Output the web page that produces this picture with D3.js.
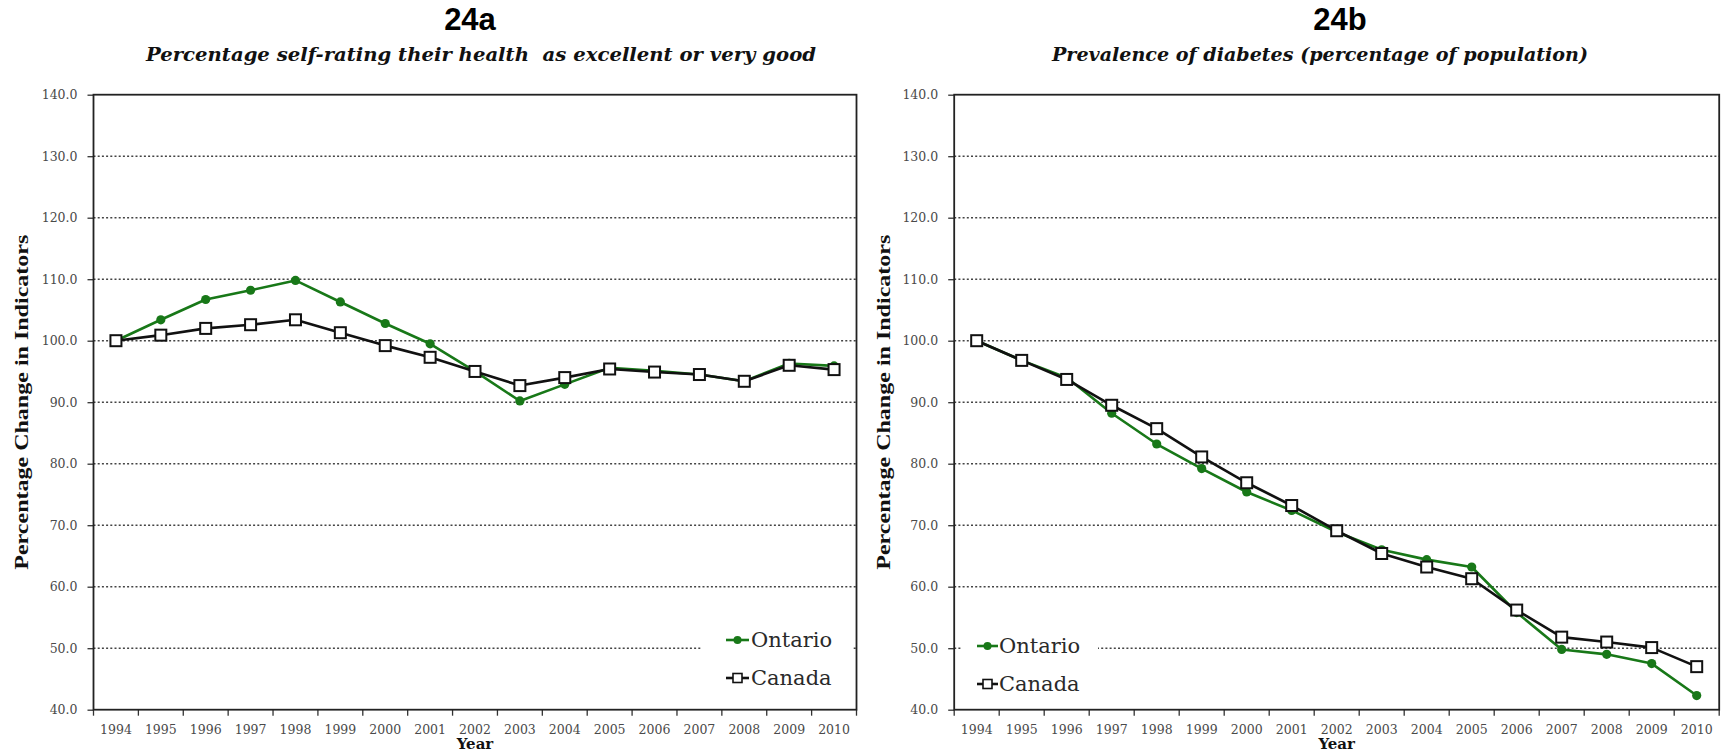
<!DOCTYPE html>
<html>
<head>
<meta charset="utf-8">
<script src="https://cdn.jsdelivr.net/npm/d3@7"></script>
<style>
  body { margin: 0; background: #fff; }
  svg { display: block; }
</style>
</head>
<body>
<svg id="chart" width="1726" height="755"></svg>
<script>
// ---- data ----
const years = ["1994","1995","1996","1997","1998","1999","2000","2001","2002",
               "2003","2004","2005","2006","2007","2008","2009","2010"];
const yTickValues = [40, 50, 60, 70, 80, 90, 100, 110, 120, 130, 140];
const gridValues = [50, 60, 70, 80, 90, 100, 110, 120, 130];
const seriesNames = ["Ontario", "Canada"];
const panelTitles = ["24a", "24b"];
const panelSubtitles = [
  "Percentage self-rating their health  as excellent or very good",
  "Prevalence of diabetes (percentage of population)"
];
const yAxisTitle = "Percentage Change in Indicators";
const xAxisTitle = "Year";

// 24a: self-rated health, indexed to 1994 = 100
const healthOntario = [100, 103.4, 106.7, 108.2, 109.8, 106.3, 102.8, 99.5, 95.0,
                       90.2, 92.9, 95.6, 95.1, 94.5, 93.4, 96.3, 95.9];
const healthCanada  = [100, 100.9, 102.0, 102.6, 103.4, 101.3, 99.2, 97.3, 95.0,
                       92.7, 94.0, 95.4, 94.9, 94.5, 93.4, 96.0, 95.3];
// 24b: diabetes prevalence, indexed to 1994 = 100
const diabetesOntario = [100, 96.8, 94.0, 88.2, 83.2, 79.2, 75.4, 72.4, 68.9,
                         66.0, 64.4, 63.2, 55.8, 49.8, 49.0, 47.5, 42.3];
const diabetesCanada  = [100, 96.8, 93.7, 89.5, 85.7, 81.1, 76.9, 73.2, 69.1,
                         65.4, 63.2, 61.3, 56.2, 51.8, 51.0, 50.1, 47.0];

// ---- styling ----
const GREEN = "#187818";
const BLACK = "#111";
const TICK_GRAY = "#4a4a4a";

const svg = d3.select("#chart");

const panels = [
  {
    title: panelTitles[0], subtitle: panelSubtitles[0],
    ontario: healthOntario, canada: healthCanada,
    left: 93.5, right: 856.5, top: 94.7, bottom: 709.7,
    titleX: 470, subtitleX: 481, subtitleW: 670, yTitleX: 22,
    legend: { x: 702, y: 620, w: 150, h: 80, lineX0: 726, lineX1: 749, textX: 751, rowY: [640, 678] }
  },
  {
    title: panelTitles[1], subtitle: panelSubtitles[1],
    ontario: diabetesOntario, canada: diabetesCanada,
    left: 954.2, right: 1719.2, top: 94.7, bottom: 709.7,
    titleX: 1340, subtitleX: 1320, subtitleW: 536, yTitleX: 884,
    legend: { x: 962, y: 626, w: 136, h: 78, lineX0: 977, lineX1: 998, textX: 999, rowY: [646, 684] }
  }
];

function drawPanel(p) {
  const g = svg.append("g");
  const x = d3.scaleBand().domain(years).range([p.left, p.right]).padding(0);
  const y = d3.scaleLinear().domain([40, 140]).range([p.bottom, p.top]);
  const cx = d => x(d) + x.bandwidth() / 2;

  // headings
  g.append("text")
    .attr("x", p.titleX).attr("y", 30)
    .attr("text-anchor", "middle")
    .style("font-family", "'Liberation Sans Narrow', 'Liberation Sans', Arial, sans-serif")
    .style("font-weight", "bold").style("font-size", "31px")
    .attr("fill", "#000")
    .text(p.title);

  g.append("text")
    .attr("x", p.subtitleX).attr("y", 61)
    .attr("text-anchor", "middle")
    .attr("textLength", p.subtitleW).attr("lengthAdjust", "spacingAndGlyphs")
    .style("white-space", "pre")
    .style("font-family", "'DejaVu Serif', serif")
    .style("font-weight", "bold").style("font-style", "italic").style("font-size", "18.5px")
    .attr("fill", "#111")
    .text(p.subtitle);

  // dotted gridlines
  g.append("g").selectAll("line").data(gridValues).join("line")
    .attr("x1", p.left).attr("x2", p.right)
    .attr("y1", d => y(d)).attr("y2", d => y(d))
    .attr("stroke", "#444").attr("stroke-width", 1.4)
    .attr("stroke-dasharray", "2,2.2");

  // y axis
  const yAxis = d3.axisLeft(y).tickValues(yTickValues)
    .tickFormat(d3.format(".1f")).tickSize(6).tickPadding(10);
  const ya = g.append("g").attr("transform", `translate(${p.left},0)`).call(yAxis);
  ya.select(".domain").remove();
  ya.selectAll(".tick line").attr("stroke", "#333").attr("stroke-width", 1.3);
  ya.selectAll(".tick text")
    .style("font-family", "'DejaVu Serif', serif").style("font-size", "12.5px")
    .attr("fill", TICK_GRAY);

  // x axis: labels centred on categories, tick marks between categories
  const xAxis = d3.axisBottom(x).tickSize(0).tickPadding(15);
  const xa = g.append("g").attr("transform", `translate(0,${p.bottom})`).call(xAxis);
  xa.select(".domain").remove();
  xa.selectAll(".tick text")
    .style("font-family", "'DejaVu Serif', serif").style("font-size", "12.5px")
    .attr("fill", TICK_GRAY);
  const edges = years.map(d => x(d)).concat([x.range()[1]]);
  g.append("g").selectAll("line").data(edges).join("line")
    .attr("x1", d => d).attr("x2", d => d)
    .attr("y1", p.bottom).attr("y2", p.bottom + 6)
    .attr("stroke", "#333").attr("stroke-width", 1.3);

  // plot frame
  g.append("rect")
    .attr("x", p.left).attr("y", p.top)
    .attr("width", p.right - p.left).attr("height", p.bottom - p.top)
    .attr("fill", "none").attr("stroke", "#222").attr("stroke-width", 1.8);

  // axis titles
  g.append("text")
    .attr("transform", `translate(${p.yTitleX},${(p.top + p.bottom) / 2}) rotate(-90)`)
    .attr("text-anchor", "middle").attr("dy", "0.35em")
    .attr("textLength", 335).attr("lengthAdjust", "spacingAndGlyphs")
    .style("font-family", "'Liberation Serif', 'Times New Roman', serif")
    .style("font-weight", "bold").style("font-size", "18px")
    .attr("fill", "#111")
    .text(yAxisTitle);

  g.append("text")
    .attr("x", (p.left + p.right) / 2).attr("y", 749)
    .attr("text-anchor", "middle")
    .style("font-family", "'DejaVu Serif', serif")
    .style("font-weight", "bold").style("font-size", "15px")
    .attr("fill", "#111")
    .text(xAxisTitle);

  // series lines
  const line = d3.line().x((d, i) => cx(years[i])).y(d => y(d));
  g.append("path").datum(p.ontario)
    .attr("d", line).attr("fill", "none")
    .attr("stroke", GREEN).attr("stroke-width", 2.6).attr("stroke-linejoin", "round");
  g.append("path").datum(p.canada)
    .attr("d", line).attr("fill", "none")
    .attr("stroke", BLACK).attr("stroke-width", 2.6).attr("stroke-linejoin", "round");

  // markers
  g.append("g").selectAll("circle").data(p.ontario).join("circle")
    .attr("cx", (d, i) => cx(years[i])).attr("cy", d => y(d))
    .attr("r", 4.6).attr("fill", GREEN);
  const s = 11;
  g.append("g").selectAll("rect").data(p.canada).join("rect")
    .attr("x", (d, i) => cx(years[i]) - s / 2).attr("y", d => y(d) - s / 2)
    .attr("width", s).attr("height", s)
    .attr("fill", "#fff").attr("stroke", BLACK).attr("stroke-width", 2);

  // legend
  const L = p.legend;
  const lg = g.append("g");
  lg.append("rect").attr("x", L.x).attr("y", L.y).attr("width", L.w).attr("height", L.h)
    .attr("fill", "#fff");
  const rows = lg.selectAll("g").data(seriesNames).join("g")
    .attr("transform", (d, i) => `translate(0,${L.rowY[i]})`);
  rows.append("line")
    .attr("x1", L.lineX0).attr("x2", L.lineX1).attr("y1", 0).attr("y2", 0)
    .attr("stroke", (d, i) => i === 0 ? GREEN : BLACK).attr("stroke-width", 2.6);
  const mid = (L.lineX0 + L.lineX1) / 2;
  rows.filter((d, i) => i === 0).append("circle")
    .attr("cx", mid).attr("cy", 0).attr("r", 4).attr("fill", GREEN);
  rows.filter((d, i) => i === 1).append("rect")
    .attr("x", mid - 4.5).attr("y", -4.5).attr("width", 9).attr("height", 9)
    .attr("fill", "#fff").attr("stroke", BLACK).attr("stroke-width", 1.6);
  rows.append("text")
    .attr("x", L.textX).attr("y", 0).attr("dy", "0.35em")
    .style("font-family", "'DejaVu Serif', serif").style("font-size", "21px")
    .attr("fill", "#2a2a2a")
    .text(d => d);
}

panels.forEach(drawPanel);
</script>
</body>
</html>
